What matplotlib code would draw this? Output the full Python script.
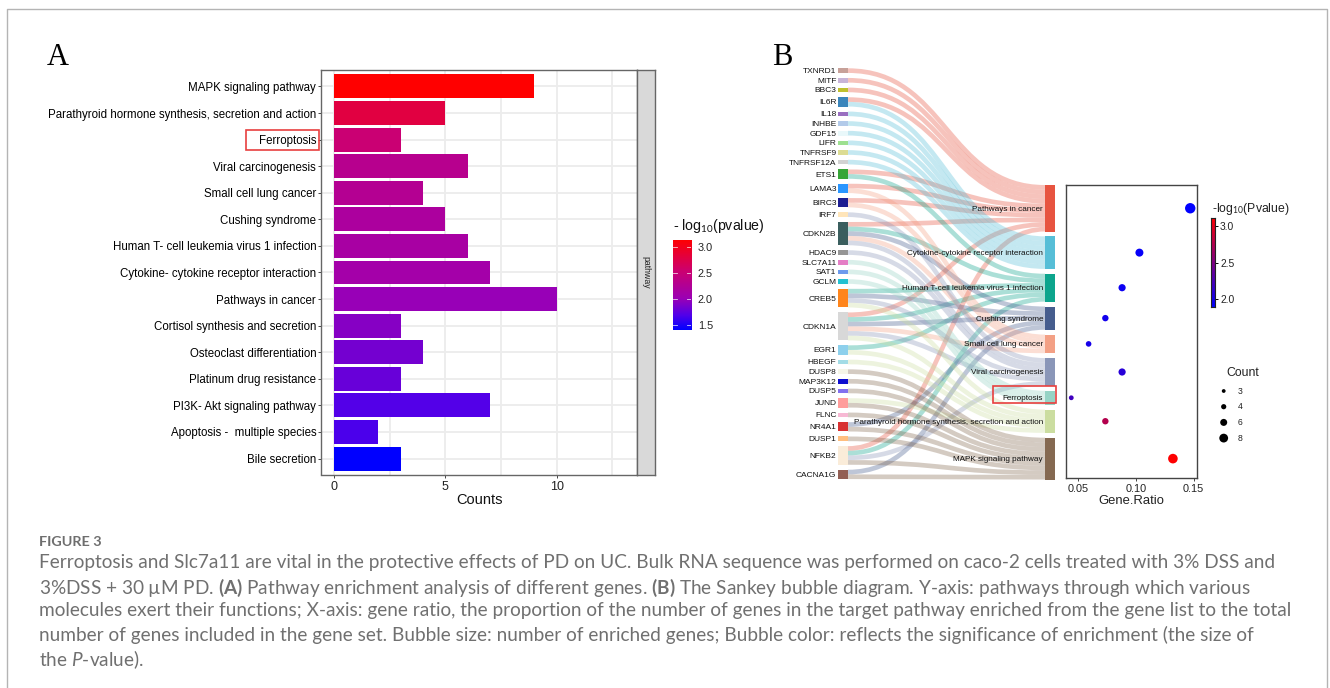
# Enrichment bar chart (A) and Sankey bubble diagram (B), with figure caption

import numpy as np
import matplotlib
matplotlib.use('Agg')
import matplotlib.pyplot as plt
from matplotlib.colors import LinearSegmentedColormap
from matplotlib.patches import PathPatch, Rectangle
from matplotlib.path import Path

plt.rcParams['font.family'] = ['Liberation Sans', 'DejaVu Sans']
plt.rcParams['mathtext.fontset'] = 'custom'
plt.rcParams['mathtext.rm'] = 'Liberation Sans'
plt.rcParams['mathtext.it'] = 'Liberation Sans:italic'
plt.rcParams['mathtext.bf'] = 'Liberation Sans:bold'

# Panel A data
bar_pathways = ['MAPK signaling pathway',
                'Parathyroid hormone synthesis, secretion and action',
                'Ferroptosis', 'Viral carcinogenesis', 'Small cell lung cancer',
                'Cushing syndrome', 'Human T- cell leukemia virus 1 infection',
                'Cytokine- cytokine receptor interaction', 'Pathways in cancer',
                'Cortisol synthesis and secretion', 'Osteoclast differentiation',
                'Platinum drug resistance', 'PI3K- Akt signaling pathway',
                'Apoptosis -  multiple species', 'Bile secretion']
bar_counts = [9, 5, 3, 6, 4, 5, 6, 7, 10, 3, 4, 3, 7, 2, 3]
bar_log_p = [3.13, 2.78, 2.5, 2.3, 2.27, 2.18, 2.14, 2.1, 2.0, 1.92, 1.84, 1.79,
             1.7, 1.67, 1.41]
bar_legend_ticks = [1.5, 2.0, 2.5, 3.0]

# Panel B data
genes = ['TXNRD1', 'MITF', 'BBC3', 'IL6R', 'IL18', 'INHBE', 'GDF15', 'LIFR',
         'TNFRSF9', 'TNFRSF12A', 'ETS1', 'LAMA3', 'BIRC3', 'IRF7', 'CDKN2B',
         'HDAC9', 'SLC7A11', 'SAT1', 'GCLM', 'CREB5', 'CDKN1A', 'EGR1', 'HBEGF',
         'DUSP8', 'MAP3K12', 'DUSP5', 'JUND', 'FLNC', 'NR4A1', 'DUSP1', 'NFKB2',
         'CACNA1G']
gene_colors = ['#c49c94', '#c5b0d5', '#bcbd22', '#2f7fb8', '#9467bd', '#aec7e8',
               '#e8f8fa', '#98df8a', '#dbdb8d', '#d0d0d0', '#2ca02c', '#1e90ff',
               '#10108b', '#ffe4b5', '#2f5555', '#8f8f8f', '#e377c2', '#6495ed',
               '#17becf', '#ff7f0e', '#d6d6d6', '#87ceeb', '#9edae5', '#f5f5e6',
               '#0000cd', '#7b68ee', '#ff9896', '#f7b6d2', '#d62728', '#ffbb78',
               '#faebd7', '#8c564b']

sankey_pathways = ['Pathways in cancer', 'Cytokine-cytokine receptor interaction',
                   'Human T-cell leukemia virus 1 infection', 'Cushing syndrome',
                   'Small cell lung cancer', 'Viral carcinogenesis', 'Ferroptosis',
                   'Parathyroid hormone synthesis, secretion and action',
                   'MAPK signaling pathway']
pathway_colors = ['#E64B35', '#4DBBD5', '#00A087', '#3C5488', '#F39B7F', '#8491B4',
                  '#91D1C2', '#c9dc9b', '#7E6148']
cancer_genes = ['TXNRD1', 'MITF', 'BBC3', 'IL6R', 'ETS1', 'LAMA3', 'BIRC3', 'CDKN2B',
                'CDKN1A', 'NFKB2']
cytokine_genes = ['IL6R', 'IL18', 'INHBE', 'GDF15', 'LIFR', 'TNFRSF9', 'TNFRSF12A']
htlv_genes = ['ETS1', 'CDKN2B', 'CREB5', 'CDKN1A', 'EGR1', 'NFKB2']
cushing_genes = ['CDKN2B', 'CREB5', 'CDKN1A', 'NR4A1', 'CACNA1G']
sclc_genes = ['LAMA3', 'BIRC3', 'CDKN2B', 'CDKN1A']
viral_genes = ['IRF7', 'CDKN2B', 'HDAC9', 'CREB5', 'CDKN1A', 'NFKB2']
ferroptosis_genes = ['SLC7A11', 'SAT1', 'GCLM']
pth_genes = ['CREB5', 'CDKN1A', 'EGR1', 'HBEGF', 'JUND']
mapk_genes = ['DUSP8', 'MAP3K12', 'DUSP5', 'JUND', 'FLNC', 'NR4A1', 'DUSP1', 'NFKB2',
              'CACNA1G']
pathway_genes = [cancer_genes, cytokine_genes, htlv_genes, cushing_genes, sclc_genes,
                 viral_genes, ferroptosis_genes, pth_genes, mapk_genes]

bubble_ratio = [0.147, 0.103, 0.088, 0.0735, 0.059, 0.088, 0.044, 0.0735, 0.132]
bubble_count = [10, 7, 6, 5, 4, 6, 3, 5, 9]
bubble_log_p = [1.89, 1.92, 1.95, 1.98, 2.0, 2.08, 2.2, 2.75, 3.11]
bubble_legend_ticks = [2.0, 2.5, 3.0]
count_legend = [3, 4, 6, 8]

caption_lines = [
    'Ferroptosis and Slc7a11 are vital in the protective effects of PD on UC. Bulk RNA sequence was performed on caco-2 cells treated with 3% DSS and',
    r'3%DSS + 30 µM PD. $\mathbf{(A)}$ Pathway enrichment analysis of different genes. $\mathbf{(B)}$ The Sankey bubble diagram. Y-axis: pathways through which various',
    'molecules exert their functions; X-axis: gene ratio, the proportion of the number of genes in the target pathway enriched from the gene list to the total',
    'number of genes included in the gene set. Bubble size: number of enriched genes; Bubble color: reflects the significance of enrichment (the size of',
    r'the $\mathit{P}$-value).']

W, H = 1330, 688
fig = plt.figure(figsize=(W / 100, H / 100), dpi=100)


def px_axes(left, top, right, bottom):
    return fig.add_axes([left / W, 1 - bottom / H, (right - left) / W, (bottom - top) / H])


def px_to_pt(n):
    return n * 0.72


# overlay in pixel coordinates, for the sankey, boxes and free text
over = fig.add_axes([0, 0, 1, 1], zorder=5)
over.set_xlim(0, W)
over.set_ylim(H, 0)
over.axis('off')

# page border, open at the bottom
over.plot([6.5, 6.5, 1326.5, 1326.5], [H, 8.5, 8.5, H], color='#b4b4b4', lw=1)

over.text(47, 65, 'A', family='Liberation Serif', fontsize=22, color='black')
over.text(772, 65, 'B', family='Liberation Serif', fontsize=22, color='black')

# Panel A
bar_cmap = LinearSegmentedColormap.from_list(
    'bars', [(0, '#0000ff'), (0.16, '#5000ea'), (0.35, '#9c00b4'), (0.65, '#cc0070'), (1, '#ff0000')])
bar_min, bar_max = 1.41, 3.13

ax = px_axes(321, 70.5, 637, 474.5)
y_pos = np.arange(len(bar_pathways))
bar_shades = [bar_cmap((v - bar_min) / (bar_max - bar_min)) for v in bar_log_p]
ax.barh(y_pos, bar_counts, height=0.9, color=bar_shades, zorder=3)
ax.set_xlim(-0.58, 13.6)
ax.set_ylim(14.6, -0.6)
ax.set_yticks(y_pos)
ax.set_yticklabels(bar_pathways, fontsize=8.3, color='black')
ax.set_xticks([0, 5, 10])
ax.set_xticks([2.5, 7.5, 12.5], minor=True)
ax.tick_params(axis='x', which='minor', length=0)
ax.tick_params(axis='both', which='major', length=2.5, width=0.7, color='#444444', pad=1)
ax.tick_params(axis='x', labelsize=9, labelcolor='#222222', pad=2)
ax.grid(True, which='both', color='#ececec', lw=1.3, zorder=0)
ax.set_axisbelow(True)
for spine in ax.spines.values():
    spine.set_color('#666666')
    spine.set_linewidth(1)
ax.set_xlabel('Counts', fontsize=10.5, labelpad=0.5, color='#111111')

# facet strip on the right of panel A
strip = px_axes(637, 70.5, 655, 474.5)
strip.set_facecolor('#d9d9d9')
strip.set_xticks([])
strip.set_yticks([])
for spine in strip.spines.values():
    spine.set_color('#666666')
    spine.set_linewidth(1)
strip.text(0.5, 0.5, 'pathway', rotation=-90, ha='center', va='center', fontsize=6.3,
           color='#222222', transform=strip.transAxes)

# colour bar of panel A
cb_a = px_axes(673, 240, 691, 330)
lo_a, hi_a = 1.414, 3.127
grad_a = np.linspace(hi_a, lo_a, 200).reshape(-1, 1)
cb_a.imshow((grad_a - bar_min) / (bar_max - bar_min), cmap=bar_cmap, vmin=0, vmax=1,
            aspect='auto', extent=[0, 1, lo_a, hi_a])
cb_a.set_xticks([])
cb_a.yaxis.tick_right()
cb_a.set_yticks(bar_legend_ticks)
cb_a.set_yticklabels(['%.1f' % t for t in bar_legend_ticks], fontsize=7.8, color='#222222')
cb_a.tick_params(axis='y', length=0, pad=5)
for t in bar_legend_ticks:
    cb_a.plot([0, 0.2], [t, t], color='white', lw=0.6, alpha=0.8)
    cb_a.plot([0.8, 1], [t, t], color='white', lw=0.6, alpha=0.8)
cb_a.set_xlim(0, 1)
cb_a.set_ylim(lo_a, hi_a)
for spine in cb_a.spines.values():
    spine.set_visible(False)
over.text(673, 230, r'- log$_{10}$(pvalue)', fontsize=10.2, color='#111111', va='baseline')

# Panel B sankey, laid out from the gene lists
unit = 4.65
gene_gap = 5.0
path_gap = 4.85
gene_left, gene_right = 838, 848
path_left, path_right = 1045, 1055

gene_links = [sum(g in plist for plist in pathway_genes) for g in genes]
gene_top = {}
cursor = 68.3
for g, n in zip(genes, gene_links):
    gene_top[g] = cursor
    cursor += n * unit + gene_gap

path_top = []
cursor = 185.0
for plist in pathway_genes:
    path_top.append(cursor)
    cursor += len(plist) * unit + path_gap
path_mid = [top + len(plist) * unit / 2 for top, plist in zip(path_top, pathway_genes)]

# gene side offsets follow the pathway order, pathway side follows the gene order
gene_offset = {g: 0 for g in genes}
mid_x = (gene_right + path_left) / 2
for i, plist in enumerate(pathway_genes):
    ordered = sorted(plist, key=genes.index)
    for k, g in enumerate(ordered):
        y0 = gene_top[g] + (gene_offset[g] + 0.5) * unit
        y1 = path_top[i] + (k + 0.5) * unit
        gene_offset[g] += 1
        link = Path([(gene_right, y0), (mid_x, y0), (mid_x, y1), (path_left, y1)],
                    [Path.MOVETO, Path.CURVE4, Path.CURVE4, Path.CURVE4])
        over.add_patch(PathPatch(link, fill=False, edgecolor=pathway_colors[i], alpha=0.33,
                                 lw=px_to_pt(unit), capstyle='butt'))

for g, n, c in zip(genes, gene_links, gene_colors):
    over.add_patch(Rectangle((gene_left, gene_top[g]), gene_right - gene_left, n * unit,
                             facecolor=c, edgecolor='none', alpha=0.95))
    over.text(gene_left - 1.5, gene_top[g] + n * unit / 2, g, ha='right', va='center_baseline',
              fontsize=6.0, color='#111111')

for name, top, plist, c in zip(sankey_pathways, path_top, pathway_genes, pathway_colors):
    over.add_patch(Rectangle((path_left, top), path_right - path_left, len(plist) * unit,
                             facecolor=c, edgecolor='none', alpha=0.95))
    over.text(path_left - 2, top + len(plist) * unit / 2, name, ha='right', va='center_baseline',
              fontsize=5.85, color='#111111')

# red boxes around Ferroptosis in both panels
over.add_patch(Rectangle((246, 130), 73, 20, fill=False, edgecolor='#e8403f', lw=1.2))
over.add_patch(Rectangle((993, 386), 62.5, 17, fill=False, edgecolor='#e8403f', lw=1.2))

# Panel B bubbles, lined up with the pathway nodes
bub_cmap = LinearSegmentedColormap.from_list('bubbles', ['#0000ff', '#800080', '#ff0000'])
lo_b, hi_b = 1.89, 3.118


def bubble_size(count):
    return px_to_pt(4.8 + (np.asarray(count) - 3) * 0.8) ** 2


bx = px_axes(1065.5, 184.7, 1196.7, 478)
bx.scatter(bubble_ratio, path_mid, s=bubble_size(bubble_count), c=bubble_log_p, cmap=bub_cmap,
           vmin=lo_b, vmax=hi_b, linewidths=0, zorder=3)
bx.set_xlim(0.039, 0.1526)
bx.set_ylim(478, 184.7)
bx.set_yticks([])
bx.set_xticks([0.05, 0.10, 0.15])
bx.set_xticklabels(['0.05', '0.10', '0.15'], fontsize=7.8, color='#222222')
bx.tick_params(axis='x', length=2, width=0.7, color='#444444', pad=2)
for spine in bx.spines.values():
    spine.set_color('#444444')
    spine.set_linewidth(1)
bx.set_xlabel('Gene.Ratio', fontsize=9.4, labelpad=1, color='#222222')

# colour bar of panel B
cb_b = px_axes(1210.5, 217.5, 1214.5, 307)
grad_b = np.linspace(hi_b, lo_b, 200).reshape(-1, 1)
cb_b.imshow(grad_b, cmap=bub_cmap, vmin=lo_b, vmax=hi_b, aspect='auto', extent=[0, 1, lo_b, hi_b])
cb_b.set_xticks([])
cb_b.yaxis.tick_right()
cb_b.set_yticks(bubble_legend_ticks)
cb_b.set_yticklabels(['%.1f' % t for t in bubble_legend_ticks], fontsize=7.4, color='#222222')
cb_b.tick_params(axis='y', length=2, width=0.7, pad=2)
for spine in cb_b.spines.values():
    spine.set_color('#222222')
    spine.set_linewidth(0.8)
over.text(1212, 212, r'-log$_{10}$(Pvalue)', fontsize=8.8, color='#222222', va='baseline')

# count legend
over.text(1243, 373, 'Count', fontsize=8.8, ha='center', va='center', color='#222222')
legend_y = 391 + 15.7 * np.arange(len(count_legend))
over.scatter(np.full(len(count_legend), 1223.7), legend_y,
             s=px_to_pt(np.array([3.8, 5.2, 7.0, 8.8])) ** 2, color='black', linewidths=0)
for yy, n in zip(legend_y, count_legend):
    over.text(1240, yy, str(n), fontsize=6.2, ha='center', va='center', color='#222222')

# caption
plt.rcParams['mathtext.rm'] = 'Lato'
plt.rcParams['mathtext.it'] = 'Lato:italic'
plt.rcParams['mathtext.bf'] = 'Lato:bold'
over.text(39, 541, 'FIGURE 3', family='Lato', weight='bold', fontsize=10.4, color='#6e6e6e',
          va='center_baseline')
caption_y = [561, 585, 609, 633, 657]
for yy, line in zip(caption_y, caption_lines):
    over.text(39, yy, line, family='Lato', fontsize=13.7, color='#707070', va='center_baseline')

fig.savefig('out.png', dpi=100)
